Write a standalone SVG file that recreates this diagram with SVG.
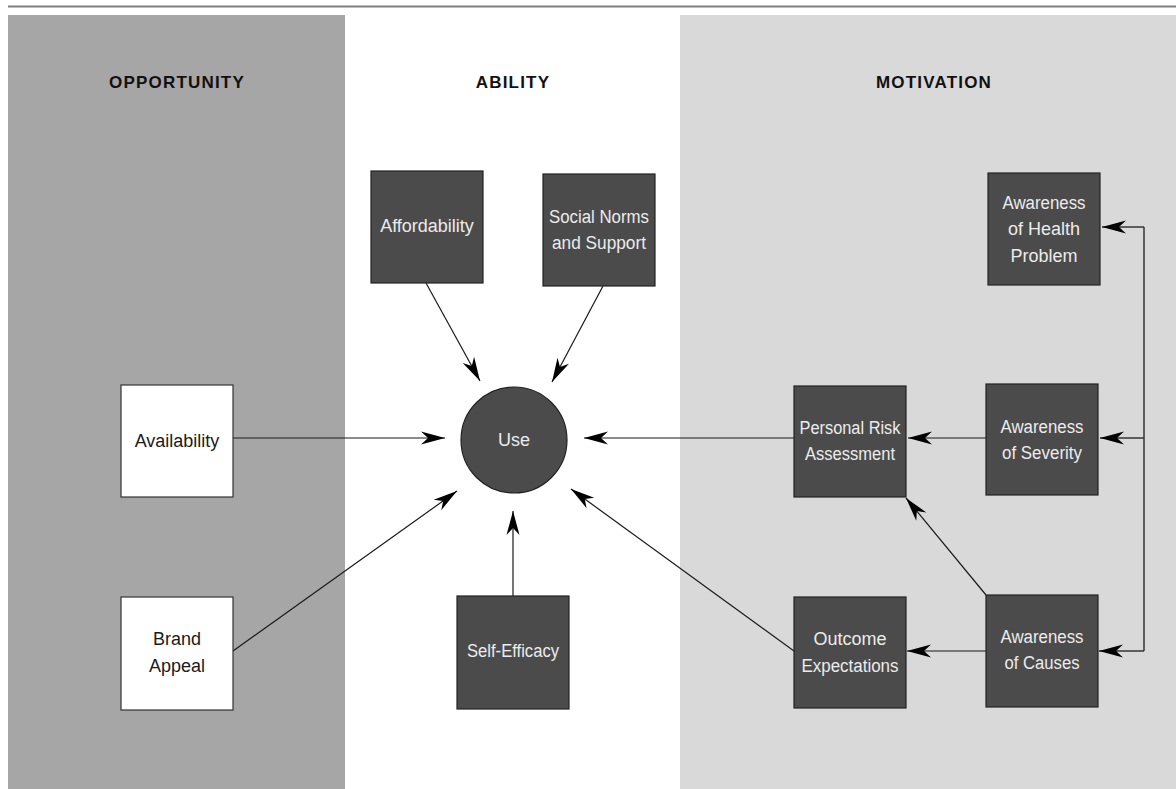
<svg xmlns="http://www.w3.org/2000/svg" width="1176" height="789" viewBox="0 0 1176 789">
<style>
.hd{font-family:"Liberation Sans",Arial,sans-serif;font-weight:bold;font-size:17px;letter-spacing:1.2px;fill:#111;text-anchor:middle}
.dk{fill:#4b4b4b;stroke:#222;stroke-width:1.2}
.wt{fill:#fff;stroke:#333;stroke-width:1.2}
.tl{font-family:"Liberation Sans",Arial,sans-serif;font-size:18px;fill:#ececec;text-anchor:middle}
.td{font-family:"Liberation Sans",Arial,sans-serif;font-size:18px;fill:#1a1a1a;text-anchor:middle}
.ln{stroke:#1a1a1a;stroke-width:1.2;fill:none}
.br{stroke:#333;stroke-width:1.5;fill:none}
</style>
<defs>
<marker id="ah" viewBox="-25 -7 26 14" refX="0" refY="0" markerWidth="26" markerHeight="14" markerUnits="userSpaceOnUse" orient="auto">
<path d="M0,0 L-24,-6.5 L-17,0 L-24,6.5 Z" fill="#000"/>
</marker>
</defs>
<rect x="0" y="0" width="1176" height="789" fill="#fff"/>
<line x1="8" y1="6.5" x2="1176" y2="6.5" stroke="#7f7f7f" stroke-width="2"/>
<rect x="8" y="15" width="337" height="774" fill="#a6a6a6"/>
<rect x="680" y="15" width="496" height="774" fill="#d9d9d9"/>
<text class="hd" x="177" y="88">OPPORTUNITY</text>
<text class="hd" x="513" y="88">ABILITY</text>
<text class="hd" x="934" y="88">MOTIVATION</text>
<g id="connectors">
<line class="ln" x1="233" y1="438" x2="445" y2="438" marker-end="url(#ah)"/>
<line class="ln" x1="233" y1="651" x2="457" y2="491" marker-end="url(#ah)"/>
<line class="ln" x1="513" y1="596" x2="513" y2="511" marker-end="url(#ah)"/>
<line class="ln" x1="426" y1="283" x2="480" y2="381" marker-end="url(#ah)"/>
<line class="ln" x1="603" y1="286" x2="552" y2="382" marker-end="url(#ah)"/>
<line class="ln" x1="794" y1="438" x2="584" y2="438" marker-end="url(#ah)"/>
<line class="ln" x1="794" y1="651" x2="571" y2="489" marker-end="url(#ah)"/>
<line class="ln" x1="986" y1="438" x2="908" y2="438" marker-end="url(#ah)"/>
<line class="ln" x1="986" y1="651" x2="907" y2="651" marker-end="url(#ah)"/>
<line class="ln" x1="986" y1="595" x2="906" y2="498" marker-end="url(#ah)"/>
<polyline class="br" points="1144,227 1144,651"/>
<line class="br" x1="1144" y1="227" x2="1102" y2="227" marker-end="url(#ah)"/>
<line class="br" x1="1144" y1="438" x2="1100" y2="438" marker-end="url(#ah)"/>
<line class="br" x1="1144" y1="651" x2="1099" y2="651" marker-end="url(#ah)"/>
</g>
<g id="availability"><rect class="wt" x="121" y="385" width="112" height="112"/><text class="td" x="177" y="447">Availability</text></g>
<g id="brand-appeal"><rect class="wt" x="121" y="597" width="112" height="113"/><text class="td" x="177" y="645">Brand</text><text class="td" x="177" y="672">Appeal</text></g>
<g id="affordability"><rect class="dk" x="371" y="171" width="112" height="112"/><text class="tl" x="427" y="232">Affordability</text></g>
<g id="social-norms"><rect class="dk" x="543" y="174" width="112" height="112"/><text class="tl" x="599" y="223" textLength="100" lengthAdjust="spacingAndGlyphs">Social Norms</text><text class="tl" x="599" y="249" textLength="94" lengthAdjust="spacingAndGlyphs">and Support</text></g>
<g id="use"><circle class="dk" cx="514" cy="440" r="53"/><text class="tl" x="514" y="446">Use</text></g>
<g id="self-efficacy"><rect class="dk" x="457" y="596" width="112" height="113"/><text class="tl" x="513" y="657" textLength="92" lengthAdjust="spacingAndGlyphs">Self-Efficacy</text></g>
<g id="personal-risk"><rect class="dk" x="794" y="386" width="112" height="111"/><text class="tl" x="850" y="434" textLength="101" lengthAdjust="spacingAndGlyphs">Personal Risk</text><text class="tl" x="850" y="460" textLength="90" lengthAdjust="spacingAndGlyphs">Assessment</text></g>
<g id="outcome"><rect class="dk" x="794" y="597" width="112" height="111"/><text class="tl" x="850" y="645">Outcome</text><text class="tl" x="850" y="672" textLength="97" lengthAdjust="spacingAndGlyphs">Expectations</text></g>
<g id="health-problem"><rect class="dk" x="988" y="173" width="112" height="112"/><text class="tl" x="1044" y="209" textLength="83" lengthAdjust="spacingAndGlyphs">Awareness</text><text class="tl" x="1044" y="235">of Health</text><text class="tl" x="1044" y="262">Problem</text></g>
<g id="severity"><rect class="dk" x="986" y="384" width="112" height="111"/><text class="tl" x="1042" y="433" textLength="83" lengthAdjust="spacingAndGlyphs">Awareness</text><text class="tl" x="1042" y="459" textLength="80" lengthAdjust="spacingAndGlyphs">of Severity</text></g>
<g id="causes"><rect class="dk" x="986" y="595" width="112" height="112"/><text class="tl" x="1042" y="643" textLength="83" lengthAdjust="spacingAndGlyphs">Awareness</text><text class="tl" x="1042" y="669" textLength="75" lengthAdjust="spacingAndGlyphs">of Causes</text></g>
</svg>
